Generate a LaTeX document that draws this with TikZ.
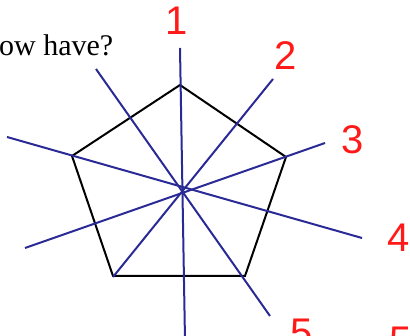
\documentclass[tikz,border=0pt]{standalone}
\usepackage{fontspec}
\setmainfont{Liberation Serif}
\newfontfamily\digitfont{Liberation Sans}
\usepackage{xcolor}
\definecolor{cLine}{HTML}{2A2A96}
\definecolor{cNum}{HTML}{FF1A1A}
\usepackage{tikz}
\usetikzlibrary{positioning,calc}
\tikzset{
  pent-edge/.style={draw=black,line width=2pt,line join=miter},
  sym-line/.style={draw=cLine,line width=2pt},
  sym-num/.style={text=cNum,font=\digitfont\fontsize{40}{40}\selectfont,inner sep=0pt},
  question/.style={font=\fontsize{30}{31}\selectfont,inner sep=0pt,anchor=base west},
}
\begin{document}
\begin{tikzpicture}[x=1pt,y=-1pt]
  \useasboundingbox (0,0) rectangle (410,336);
  \clip (0,0) rectangle (410,336);
  % question text, cut at the left
  \node[question] (q) at (-1,56) {ow have?};
  % pentagon
  \coordinate (pt) at (180,85);
  \coordinate (pr) at (286,157);
  \coordinate (pbr) at (245,276);
  \coordinate (pbl) at (113,276);
  \coordinate (pl) at (72,156);
  \draw[pent-edge] (pt) -- (pr) -- (pbr) -- (pbl) -- (pl) -- cycle;
  % lines of symmetry
  \coordinate (a1) at (180,48);  \coordinate (b1) at (185,340);
  \coordinate (a2) at (273,79);  \coordinate (b2) at (113,277);
  \coordinate (a3) at (325,143); \coordinate (b3) at (25,248);
  \coordinate (a4) at (362,238); \coordinate (b4) at (7,137);
  \coordinate (a5) at (270,316); \coordinate (b5) at (96,69);
  \foreach \i in {1,...,5}
    \draw[sym-line] (a\i) -- (b\i);
  % handwritten numbers
  \node[sym-num] (n1) at (177,21) {1};
  \node[sym-num] (n2) at (286,56) {2};
  \node[sym-num] (n3) at (353,140) {3};
  \node[sym-num] (n4) at (399,238) {4};
  \node[sym-num] (n5) at (302,333) {5};
  \node[sym-num] (n6) at (401,341) {5};
\end{tikzpicture}
\end{document}
